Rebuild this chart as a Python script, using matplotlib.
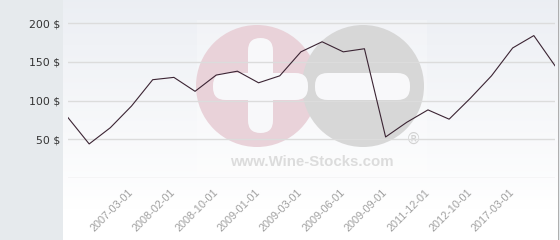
import matplotlib
matplotlib.use("Agg")
from matplotlib import pyplot as plt
from matplotlib.patches import Circle, FancyBboxPatch, Rectangle
import numpy as np

# data
prices = [78, 44, 65, 93, 127, 130, 112, 133, 138, 123, 132, 163,
          176, 163, 167, 53, 72, 88, 76, 103, 132, 168, 184, 145]
tick_idx = [3, 5, 7, 9, 11, 13, 15, 17, 19, 21]
tick_labels = ["2007-03-01", "2008-02-01", "2008-10-01", "2009-01-01",
               "2009-03-01", "2009-06-01", "2009-09-01", "2011-12-01",
               "2012-10-01", "2017-03-01"]
y_ticks = [50, 100, 150, 200]

W, H = 560, 240
fig = plt.figure(figsize=(W / 100, H / 100), dpi=100)
fig.patch.set_facecolor("#e6eaed")

# background panel in pixel coords
bg = fig.add_axes([63 / W, 0, (559 - 63) / W, 1])
bg.set_xlim(63, 559)
bg.set_ylim(H, 0)
bg.axis("off")
grad = np.clip(np.linspace(0, 1, 256) * 1.15, 0, 1).reshape(-1, 1, 1)
top = np.array([0.925, 0.935, 0.955])
img = top + (1.0 - top) * grad
img = np.repeat(img, 2, axis=1)
bg.imshow(img, extent=[63, 559, H, 0], aspect="auto", zorder=0)
bg.plot([558.5, 558.5], [0, H], color="#a0a0a0", lw=1.2, zorder=5)

# watermark
bg.add_patch(Rectangle((197, 20), 230, 155, color="white", alpha=0.25, lw=0, zorder=1))
bg.add_patch(Circle((257, 86), 61, color="#e9d2d9", lw=0, zorder=2))
bg.add_patch(Circle((363, 86), 61, color="#d7d7d7", lw=0, zorder=2))
bar = dict(boxstyle="round,pad=0,rounding_size=12.5", color="#f8f8fa", lw=0, zorder=3)
bg.add_patch(FancyBboxPatch((248, 38), 25, 95, **bar))
bg.add_patch(FancyBboxPatch((213, 73), 95, 27, **bar))
bg.add_patch(FancyBboxPatch((315, 73), 95, 27, **bar))
bg.text(312, 162, "www.Wine-Stocks.com", fontsize=10.8, fontweight="bold",
        family="Liberation Sans", color="#dcdcdc", ha="center", va="center", zorder=3)
bg.text(413, 139, "\u00ae", fontsize=11, color="#d2d2d2", ha="center", va="center", zorder=3)

# main chart
px = 38.7 / 50
ax = fig.add_axes([68 / W, (H - 178) / H, (555 - 68) / W, (178 - 5) / H])
ax.patch.set_alpha(0)
x = np.arange(len(prices))
ax.plot(x, prices, color="#3b2433", lw=0.8, zorder=3)
ax.set_xlim(0, len(prices) - 1)
ax.set_ylim(0, 173 / px)
for v in [0] + y_ticks:
    ax.axhline(v, color="#dcdcdc", lw=1, zorder=1)
for s in ax.spines.values():
    s.set_visible(False)

ax.set_yticks(y_ticks)
ax.set_yticklabels([f"{v} $" for v in y_ticks], fontsize=7.8, color="#333333")
ax.tick_params(axis="y", length=0, pad=5.5)
ax.set_xticks(tick_idx)
ax.set_xticklabels(tick_labels, rotation=45, ha="right", va="center",
                   rotation_mode="anchor", fontsize=7.8, color="#a0a0a0",
                   family="Liberation Sans")
ax.tick_params(axis="x", length=0, pad=9)

fig.savefig("out.png", dpi=100, facecolor=fig.get_facecolor())
